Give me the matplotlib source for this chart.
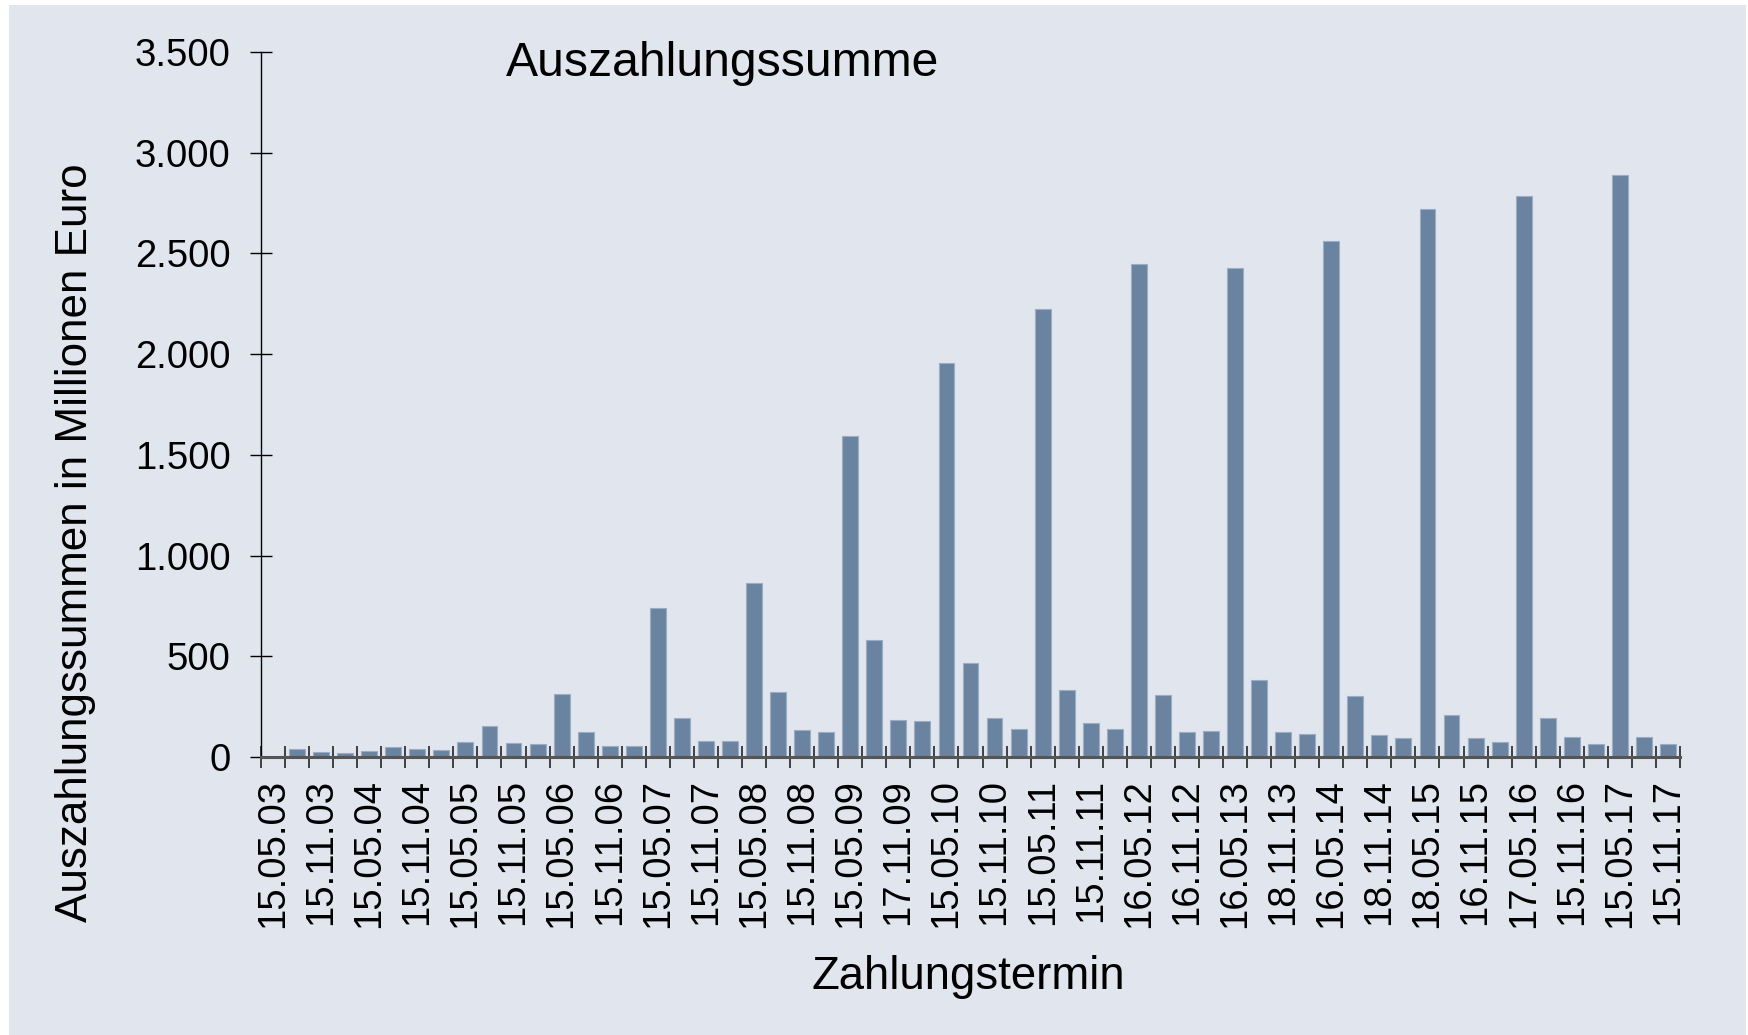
import matplotlib
matplotlib.use("Agg")
import matplotlib.pyplot as plt
from matplotlib.patches import Rectangle
import numpy as np

plt.rcParams['font.family'] = ['Liberation Sans', 'DejaVu Sans']

# labelled payment dates (every second category carries a label)
date_labels = ['15.05.03', '15.11.03', '15.05.04', '15.11.04', '15.05.05', '15.11.05',
               '15.05.06', '15.11.06', '15.05.07', '15.11.07', '15.05.08', '15.11.08',
               '15.05.09', '17.11.09', '15.05.10', '15.11.10', '15.05.11', '15.11.11',
               '16.05.12', '16.11.12', '16.05.13', '18.11.13', '16.05.14', '18.11.14',
               '18.05.15', '16.11.15', '17.05.16', '15.11.16', '15.05.17', '15.11.17']

# payout sums in million euro, one per category
payouts = [0, 41, 26, 18, 28, 51, 41, 36, 73, 152,
           70, 63, 315, 126, 56, 53, 738, 194, 81, 81,
           865, 321, 132, 124, 1592, 583, 185, 177, 1958, 465,
           192, 137, 2224, 334, 167, 139, 2446, 310, 124, 127,
           2429, 384, 126, 113, 2562, 305, 109, 93, 2718, 209,
           96, 76, 2784, 195, 98, 63, 2890, 101, 66]

bg = '#e0e5ee'
bar_color = '#6a83a0'

fig = plt.figure(figsize=(17.48, 10.35), dpi=100)
fig.patch.set_facecolor('white')
fig.patches.append(Rectangle((9 / 1748, 0), 1737 / 1748, 1 - 5 / 1035,
                             transform=fig.transFigure, facecolor=bg,
                             edgecolor='none', zorder=-10))

ax = fig.add_axes([0.1493, 0.2686, 0.8118, 0.6812])
ax.set_facecolor('none')

x = np.arange(len(payouts))
ax.bar(x, payouts, width=0.66, color=bar_color, edgecolor='#9aadc4', linewidth=0.8, zorder=2)

ax.set_xlim(-0.5, len(payouts) - 0.5)
ax.set_ylim(0, 3500)

# y axis
ax.set_yticks(np.arange(0, 3501, 500))
ax.set_yticklabels([f'{v:,}'.replace(',', '.') for v in range(0, 3501, 500)])
ax.tick_params(axis='y', direction='inout', length=16, width=1, color='black',
               labelsize=27.5, pad=14)

# x axis: marks at category boundaries, labels at every second category
ax.set_xticks(np.arange(0, len(payouts), 2))
ax.set_xticklabels(date_labels, rotation=90)
ax.set_xticks(np.arange(-0.5, len(payouts)), minor=True)
ax.tick_params(axis='x', which='major', length=0, labelsize=27.5, pad=16)
ax.tick_params(axis='x', which='minor', direction='inout', length=16, width=1.3,
               color='#333333')

for s in ['top', 'right']:
    ax.spines[s].set_visible(False)
ax.spines['left'].set_color('black')
ax.spines['left'].set_linewidth(1)
ax.spines['bottom'].set_color('#555555')
ax.spines['bottom'].set_linewidth(2.2)
ax.spines['bottom'].set_zorder(3)

fig.text(723 / 1748, 1 - 63 / 1035, 'Auszahlungssumme', fontsize=34.7,
         ha='center', va='center')
fig.text(76 / 1748, 1 - 543 / 1035, 'Auszahlungssummen in Millionen Euro',
         fontsize=31.7, rotation=90, ha='center', va='center')
fig.text(968 / 1748, 1 - 977 / 1035, 'Zahlungstermin', fontsize=32.8,
         ha='center', va='center')

fig.savefig('out.png', dpi=100, facecolor=fig.get_facecolor())
